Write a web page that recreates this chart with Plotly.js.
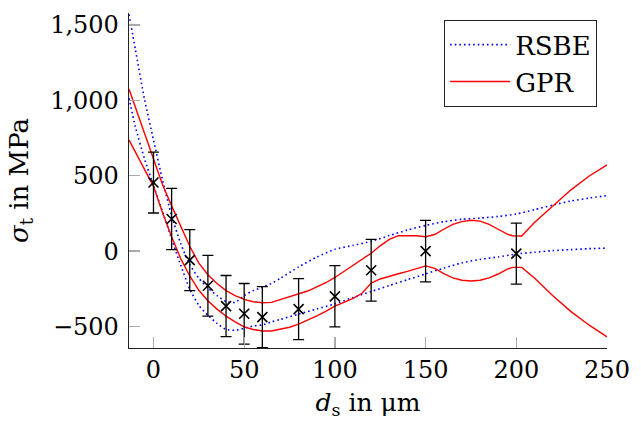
<!DOCTYPE html>
<html>
<head>
<meta charset="utf-8">
<script src="https://cdn.plot.ly/plotly-3.0.1.min.js"></script>
<style>html,body{margin:0;padding:0;background:#fff;}#chart{width:641px;height:431px;}</style>
</head>
<body>
<div id="chart"></div>
<script>
// Measured data points with error bars
const dataX = [0, 10, 20, 30, 40, 50, 60, 80, 100, 120, 150, 200];
const dataY = [455, 213, -60, -230, -365, -416, -438, -385, -300, -127, 0, -17];
const dataErr = [202, 203, 202, 202, 203, 201, 202, 203, 203, 205, 204, 202];

// RSBE bounds (blue dotted)
const rsbeX = [-13.5,-10,-5,0,5,10,15,20,25,30,35,40,45,50,55,60,65,70,80,90,100,110,120,130,140,150,160,170,180,190,200,210,220,230,240,250];
const rsbeUpper = [1570,1339,1010,738,470,235,50,-90,-180,-245,-295,-335,-340,-295,-262,-240,-215,-180,-105,-40,12,38,65,103,140,170,195,211,219,230,246,275,305,332,352,368];
const rsbeLower = [1015,825,615,435,262,80,-93,-253,-360,-425,-480,-520,-525,-512,-497,-490,-470,-453,-418,-384,-350,-308,-268,-228,-190,-151,-113,-78,-55,-39,-19,-8,3,10,16,20];

// GPR bounds (red solid)
const gprX = [-13.5,-10,-5,0,5,10,15,20,25,30,35,40,45,50,55,60,65,70,75,80,85,90,95,100,105,110,115,120,125,130,135,140,145,150,155,160,165,170,175,180,185,190,195,198,203,210,220,230,240,250];
const gprUpper = [1075,955,785,610,440,300,170,32,-80,-157,-215,-262,-295,-320,-336,-343,-340,-322,-305,-288,-265,-237,-210,-175,-135,-93,-55,-14,35,78,103,105,102,95,110,145,178,196,205,199,177,145,112,102,100,190,298,405,497,572];
const gprLower = [738,660,550,430,255,95,-50,-165,-260,-330,-385,-432,-470,-503,-520,-530,-530,-520,-505,-485,-460,-430,-400,-365,-340,-313,-280,-212,-185,-165,-150,-135,-118,-98,-115,-150,-178,-193,-198,-193,-178,-152,-120,-108,-108,-178,-295,-400,-490,-569];

// Axis ticks
const xTickVals = [0, 50, 100, 150, 200, 250];
const xTickText = ['0', '50', '100', '150', '200', '250'];
const yTickVals = [-500, 0, 500, 1000, 1500];
const yTickText = ['\u2212500', '0', '500', '1,000', '1,500'];

const FONT = 'DejaVu Serif';

const blueLine = {color: '#0000ff', dash: '1.6px,3px', width: 1.6, shape: 'spline', smoothing: 0.6};
const redLine = {color: '#ff0000', width: 1.4};

const traces = [
  {x: rsbeX, y: rsbeUpper, mode: 'lines', name: 'RSBE', legendgroup: 'rsbe', line: blueLine},
  {x: rsbeX, y: rsbeLower, mode: 'lines', name: 'RSBE', legendgroup: 'rsbe', showlegend: false, line: blueLine},
  {x: gprX, y: gprUpper, mode: 'lines', name: 'GPR', legendgroup: 'gpr', line: redLine},
  {x: gprX, y: gprLower, mode: 'lines', name: 'GPR', legendgroup: 'gpr', showlegend: false, line: redLine},
  {x: dataX, y: dataY, mode: 'markers', name: 'data', showlegend: false,
   marker: {symbol: 'x-thin', size: 10, color: '#000', line: {color: '#000', width: 1.6}},
   error_y: {type: 'data', array: dataErr, visible: true, color: '#000', thickness: 1.3, width: 5.5}}
];

const layout = {
  width: 641, height: 431,
  margin: {l: 129, r: 34, t: 13, b: 83, pad: 0},
  paper_bgcolor: '#fff', plot_bgcolor: '#fff',
  font: {family: FONT, size: 24, color: '#000'},
  showlegend: true,
  legend: {x: 0.979, y: 0.979, xanchor: 'right', yanchor: 'top',
    bgcolor: '#fff', bordercolor: '#222', borderwidth: 1.2,
    font: {family: FONT, size: 26, color: '#000'}, itemwidth: 60, tracegroupgap: 0},
  xaxis: {
    range: [-13.5, 250], showgrid: false, zeroline: false,
    showline: true, linecolor: '#222', linewidth: 1.3, mirror: false,
    ticks: 'inside', ticklen: 11, tickwidth: 1.3, tickcolor: '#aaa',
    tickmode: 'array', tickvals: xTickVals, ticktext: xTickText,
    tickfont: {family: FONT, size: 24, color: '#000'},
    title: {text: '<i>d</i><sub>s</sub> in \u03bcm', font: {family: FONT, size: 25, color: '#000'}, standoff: 10}
  },
  yaxis: {
    range: [-643, 1580], showgrid: false, zeroline: false,
    showline: true, linecolor: '#222', linewidth: 1.3, mirror: false,
    ticks: 'inside', ticklen: 11, tickwidth: 1.3, tickcolor: '#aaa',
    ticklabelstandoff: 4,
    tickmode: 'array', tickvals: yTickVals, ticktext: yTickText,
    tickfont: {family: FONT, size: 24, color: '#000'},
    title: {text: '<i>\u03c3</i><sub>t</sub> in MPa', font: {family: FONT, size: 26, color: '#000'}, standoff: 14}
  }
};

Plotly.newPlot('chart', traces, layout, {staticPlot: true, displayModeBar: false});
</script>
</body>
</html>
